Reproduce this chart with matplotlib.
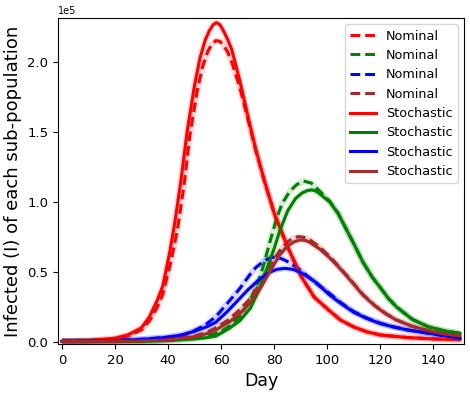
import numpy as np
import matplotlib
matplotlib.use("Agg")
import matplotlib.pyplot as plt

# ---- data (values in thousands of infected) ----
red_nom_days = [0,10,20,25,30,33,36,38,41,43.5,46,48.2,51,53,55,56.5,58,59.5,61,62.5,64,67,70,73,76.4,80.2,85,90.2,95,100.9,105,110,115,120,130,140,150]
red_nom_vals = [0.2,0.6,2,4.2,8.5,15,25,34,57,80,112,148,180,197,208,213,215.5,215,212,207,200,182,160,137,114,90.5,68,46.5,32,22,15.5,10.5,7,4.8,3,2,1.5]

green_nom_days = [0,20,30,40,50,55,60,63,67,71,74,76,78.3,81,83,85.8,88.5,91,94,97,100.9,104,107,110,113.4,117,119.7,123,126,132,138,144,150]
green_nom_vals = [0.1,0.2,0.4,1,2.4,4,7.5,11,18,30,43,55,71,89,99,107.5,112.5,115,113.5,108,100.5,92,81,70,57,46,39.4,31,25,16,10.7,7.8,6]

blue_nom_days = [0,20,30,35,40,45.7,50,54,58,63,67,70.8,73,75.8,77.5,79.3,81,83,86,90,94,97,100.9,105,110,115,120,125,130,140,150]
blue_nom_vals = [0.3,0.8,1.8,2.5,3.3,4.8,8,12,18,29,38,48,53,57.3,59.2,60.4,60.2,59.2,56.5,51,44.5,40,34.5,28,21.5,16.8,13.2,10.6,8.5,5.5,2.5]

brown_nom_days = [0,20,30,40,50,55,58,63,67,71,75,78,82,85,87,89,91,93,97,100.9,104,108,113.4,118,122,126,132,138.5,144,150]
brown_nom_vals = [0.2,0.3,0.6,1.5,4,7,10,16,23,31,43,53,65,71.5,74,75.2,74.8,73.5,68,61,54.5,46,33.8,25.8,20.2,15.6,11,7.7,5.6,4.2]

red_sto_days = [0,10,20,25,30,33,36,38,40.6,42.5,44.8,47.2,50,52,54,55.5,57,58.2,59.5,61,62.5,64,67,70,73,76.4,80.2,85,90.2,95,100.9,105,110,115,120,130,140,150]
red_sto_vals = [0.2,0.7,2.5,5,10,18,30,40,64,85,115,151,184,203,216,222.5,227,228.4,227,222,216,209,187,162,138,114.5,90.7,68,46.5,32,22,15.5,10.5,7,4.8,3,2,1.5]

green_sto_days = [0,20,30,40,50,55,58,63,67,71,74,77,80,82,85,88,90.5,92.5,94,95.5,97,100.9,104,107,110,113.4,117,119.7,123,126,132,138,144,150]
green_sto_vals = [0.1,0.2,0.3,0.8,2,3,4,9.5,15,24,36,51,67,79,93.5,102.5,106.5,108.2,108.6,108,106,100,92,81,70,57,46,39.4,31,25,16,10.7,7.8,6]

blue_sto_days = [0,20,30,40,45,50,55,58,62,66,70,74,78,81,84,87,90,93,96,100.9,105,110,115,120,125,130,140,150]
blue_sto_vals = [0.3,0.8,1.5,3.2,4.8,7.5,11,14,21,29,37,44,49.5,51.8,52.5,51.8,49.5,46,42,33.4,27.5,21,16.5,13,10.5,8.5,5.5,2.5]

brown_sto_days = [0,20,30,40,50,55,58,63,67,71,75,78,82,85,87.5,89.6,91.5,93,97,100.9,104,108,113.4,118,122,126,132,138.5,144,150]
brown_sto_vals = [0.2,0.3,0.5,1.3,3.5,6,8.5,14,20,28,39,49,62,68.5,71.5,72.8,72.6,71.5,66.5,60,54,45.5,33.4,25.5,20,15.5,11,7.7,5.6,4.2]

colors = ["red", "green", "blue", "brown"]
nominal = [(red_nom_days, red_nom_vals), (green_nom_days, green_nom_vals),
           (blue_nom_days, blue_nom_vals), (brown_nom_days, brown_nom_vals)]
stochastic = [(red_sto_days, red_sto_vals), (green_sto_days, green_sto_vals),
              (blue_sto_days, blue_sto_vals), (brown_sto_days, brown_sto_vals)]

fig = plt.figure(figsize=(4.70, 3.94), dpi=100)
ax = fig.add_axes([58/470, 50/394, 406/470, 326/394])

for (d, v), c in zip(nominal, colors):
    ax.plot(d, np.array(v) * 1e3, color=c, lw=4.5, alpha=0.15, solid_capstyle="butt")
for (d, v), c in zip(stochastic, colors):
    ax.plot(d, np.array(v) * 1e3, color=c, lw=4.5, alpha=0.15, solid_capstyle="butt")

for (d, v), c in zip(nominal, colors):
    ax.plot(d, np.array(v) * 1e3, color=c, lw=2.2, ls="--", dashes=(3.2, 1.6), label="Nominal")
for (d, v), c in zip(stochastic, colors):
    ax.plot(d, np.array(v) * 1e3, color=c, lw=2.2, label="Stochastic")

ax.set_xlim(-1.5, 151.5)
ax.set_ylim(-1650, 231700)
ax.set_xticks([0, 20, 40, 60, 80, 100, 120, 140])
ax.ticklabel_format(axis="y", style="sci", scilimits=(0, 0))
ax.tick_params(labelsize=9.5)
ax.yaxis.get_offset_text().set_fontsize(7)
ax.set_xlabel("Day", fontsize=12.5)
ax.set_ylabel("Infected (I) of each sub-population", fontsize=13)
ax.legend(loc="upper right", fontsize=9.2)

fig.savefig("out.png", dpi=100)
